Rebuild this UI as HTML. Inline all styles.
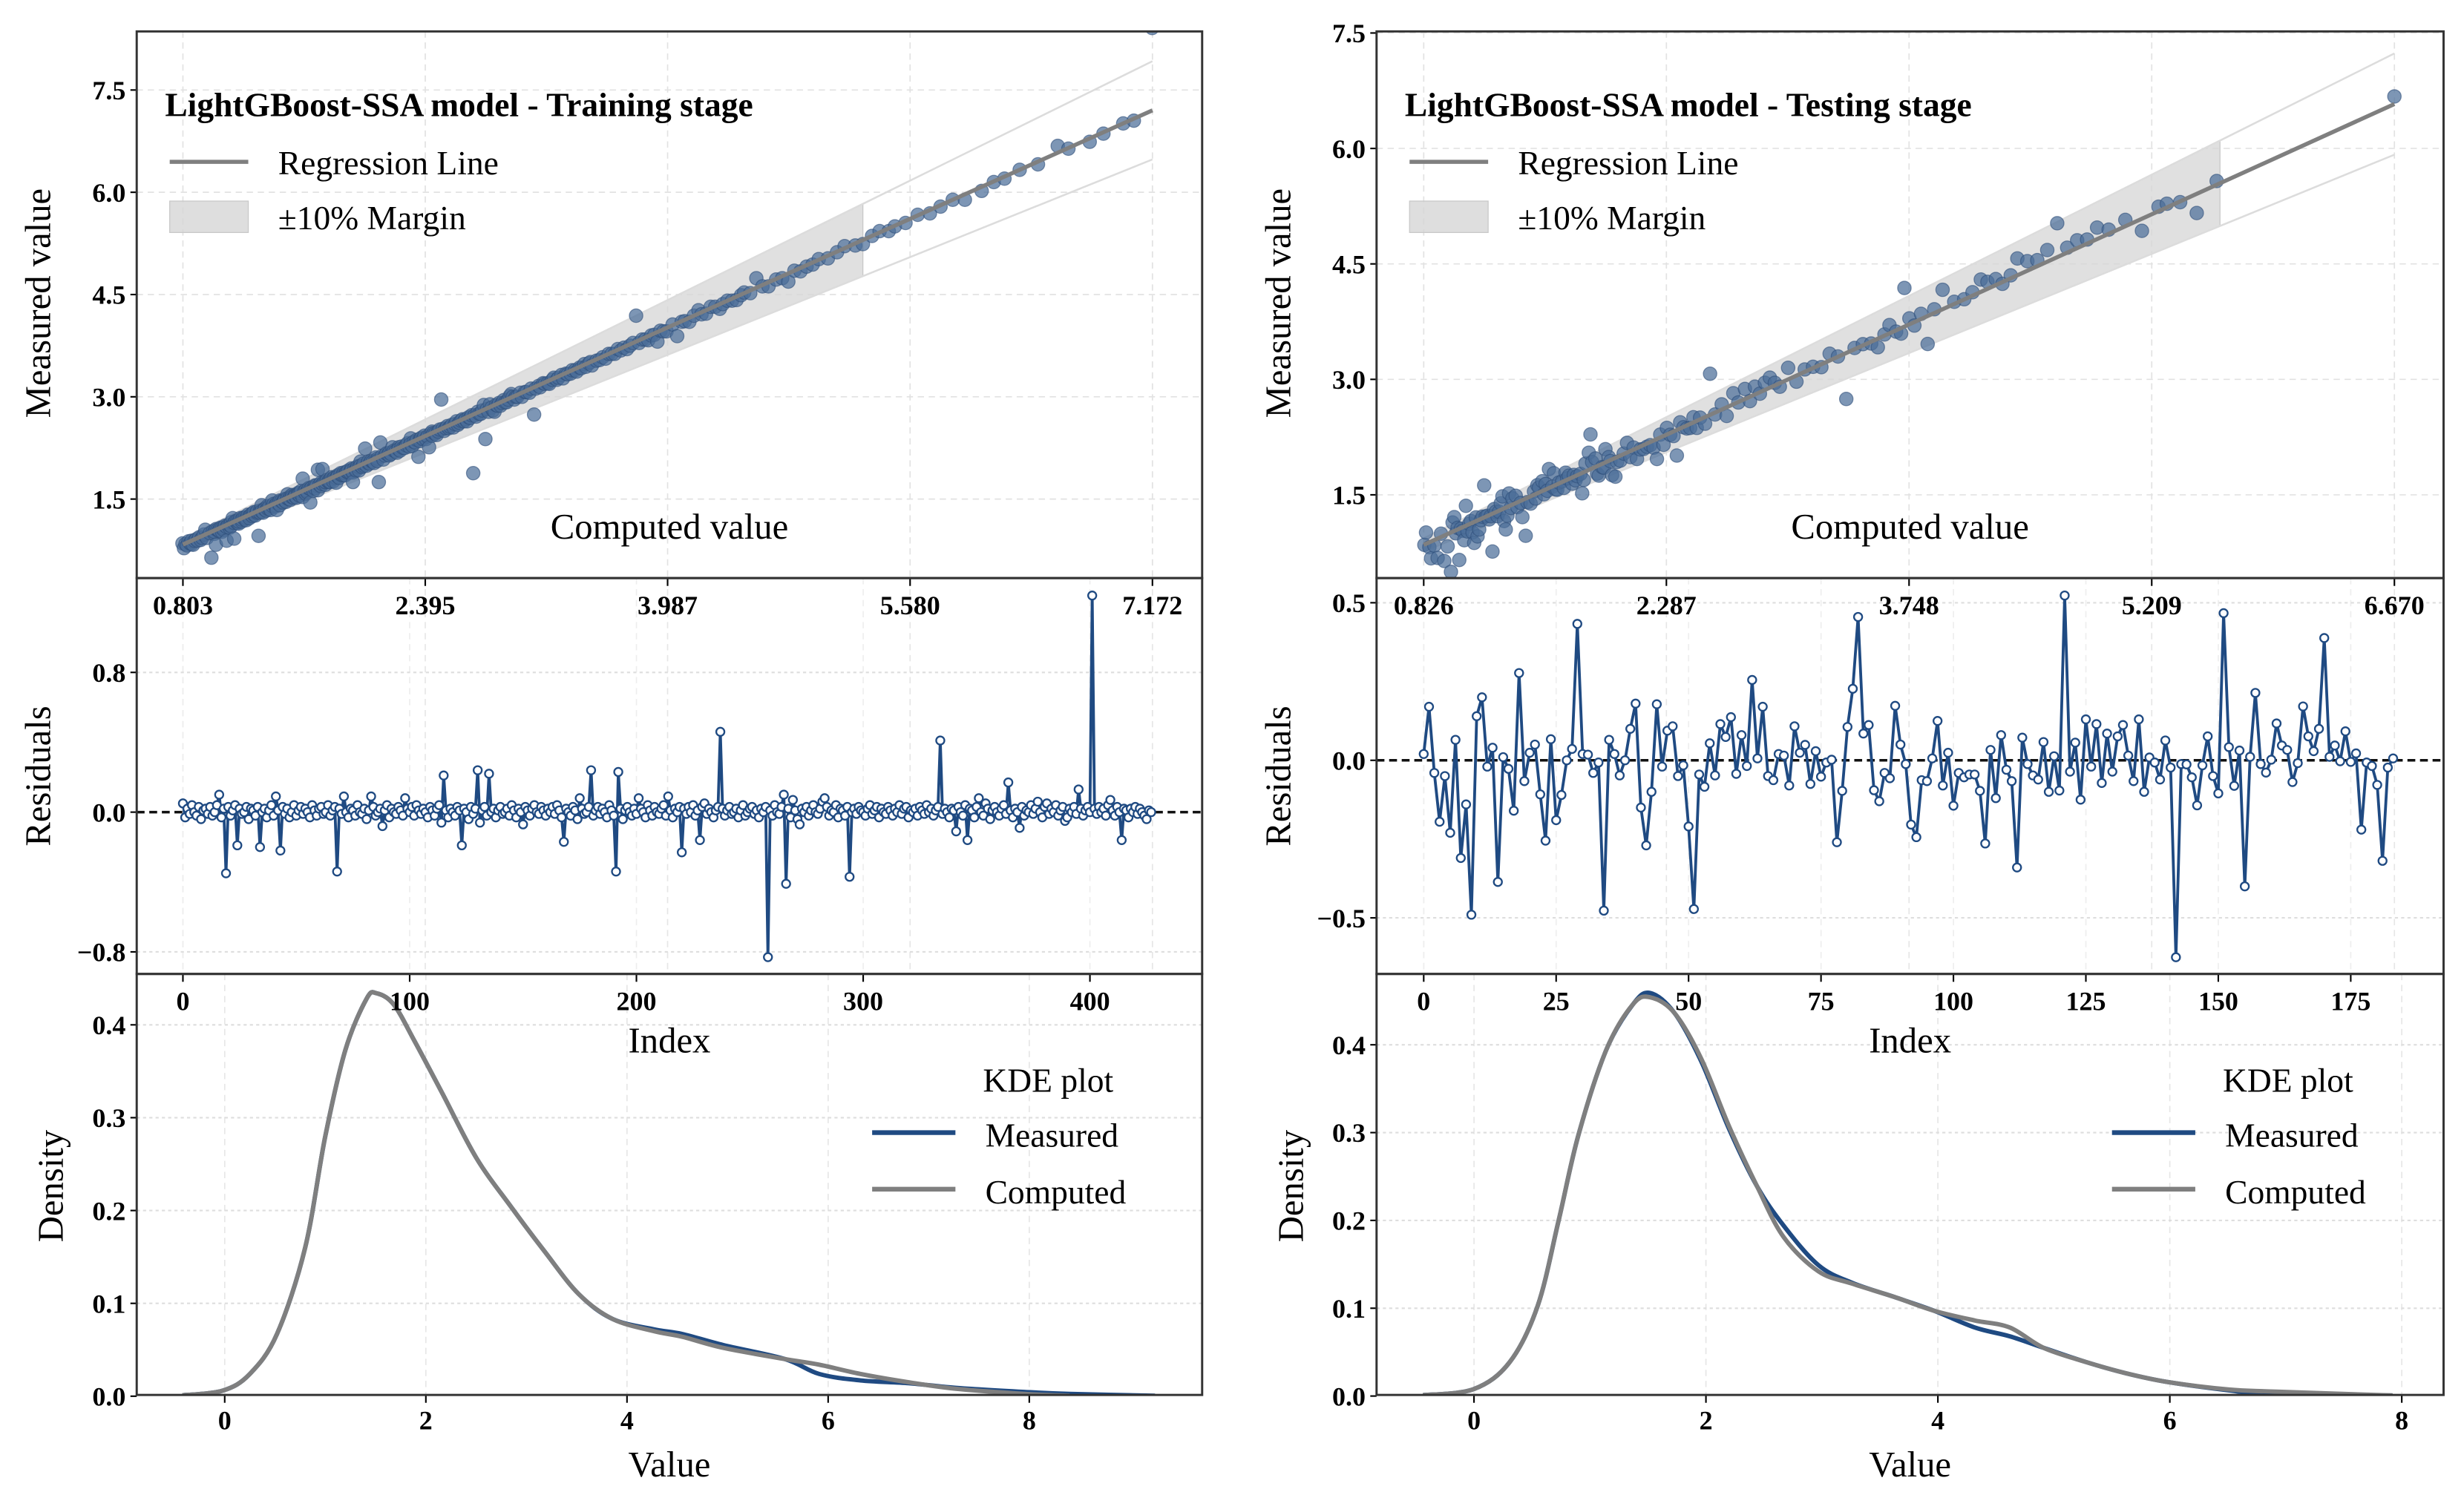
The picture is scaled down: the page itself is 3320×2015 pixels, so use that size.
<!DOCTYPE html>
<html><head><meta charset="utf-8"><title>LightGBoost-SSA</title>
<style>html,body{margin:0;padding:0;background:#fff}svg{display:block;font-family:"Liberation Serif",serif}</style>
</head><body>
<svg id="chart" xmlns="http://www.w3.org/2000/svg" width="3320" height="2015" viewBox="0 0 1568 951.7" preserveAspectRatio="none">
<rect x="0" y="0" width="1568" height="951.7" fill="#fff"/>
</svg>
<script>
// ---------- DATA ----------
const trainTopTicks=["0.803","2.395","3.987","5.580","7.172"];
const testTopTicks=["0.826","2.287","3.748","5.209","6.670"];
const scatterYTicks=[1.5,3.0,4.5,6.0,7.5];
const trainResidTicks=[0.8,0.0,-0.8];
const testResidTicks=[0.5,0.0,-0.5];
const trainIndexTicks=[0,100,200,300,400];
const testIndexTicks=[0,25,50,75,100,125,150,175];
const kdeXTicks=[0,2,4,6,8];
const kdeYTicks=[0.0,0.1,0.2,0.3,0.4];

const trainComputed=[0.80,0.81,0.82,0.83,0.84,0.85,0.86,0.86,0.87,0.88,0.89,0.90,0.91,0.92,0.93,0.94,0.95,0.96,0.98,0.99,
1.00,1.01,1.01,1.02,1.02,1.03,1.04,1.04,1.05,1.06,1.06,1.07,1.07,1.08,1.09,1.09,1.10,1.11,1.11,1.12,1.12,1.13,1.14,1.14,1.15,1.16,1.16,1.17,1.17,1.18,1.19,1.19,1.20,1.21,1.21,1.22,1.22,1.23,1.24,1.24,1.25,1.26,1.26,1.27,1.27,1.28,1.29,1.29,1.30,1.31,1.31,1.32,1.32,1.33,1.34,1.34,1.35,1.36,1.36,1.37,1.37,1.38,1.39,1.39,1.40,1.41,1.41,1.42,1.42,1.43,1.44,1.44,1.45,1.46,1.46,1.47,1.47,1.48,1.49,1.49,
1.50,1.51,1.51,1.52,1.52,1.53,1.54,1.54,1.55,1.56,1.56,1.57,1.57,1.58,1.59,1.59,1.60,1.61,1.61,1.62,1.62,1.63,1.64,1.64,1.65,1.66,1.66,1.67,1.67,1.68,1.69,1.69,1.70,1.71,1.71,1.72,1.72,1.73,1.74,1.74,1.75,1.76,1.76,1.77,1.77,1.78,1.79,1.79,1.80,1.81,1.81,1.82,1.82,1.83,1.84,1.84,1.85,1.86,1.86,1.87,1.87,1.88,1.89,1.89,1.90,1.91,1.91,1.92,1.92,1.93,1.94,1.94,1.95,1.96,1.96,1.97,1.97,1.98,1.99,1.99,
2.00,2.01,2.02,2.02,2.03,2.04,2.05,2.06,2.07,2.08,2.08,2.09,2.10,2.11,2.12,2.13,2.14,2.15,2.16,2.16,2.17,2.18,2.19,2.20,2.21,2.22,2.22,2.23,2.24,2.25,2.26,2.27,2.28,2.29,2.30,2.30,2.31,2.32,2.33,2.34,2.35,2.36,2.36,2.37,2.38,2.39,2.40,2.41,2.42,2.43,2.44,2.44,2.45,2.46,2.47,2.48,2.49,
2.50,2.51,2.52,2.53,2.54,2.55,2.56,2.57,2.58,2.59,2.60,2.61,2.62,2.63,2.64,2.65,2.66,2.67,2.68,2.69,2.70,2.71,2.72,2.73,2.74,2.75,2.76,2.77,2.78,2.79,2.80,2.81,2.82,2.83,2.84,2.85,2.86,2.87,2.88,2.89,2.90,2.91,2.92,2.93,2.94,2.95,2.96,2.97,2.98,2.99,
3.00,3.02,3.03,3.05,3.06,3.08,3.09,3.11,3.12,3.14,3.15,3.17,3.18,3.20,3.21,3.23,3.24,3.26,3.27,3.29,3.30,3.32,3.33,3.35,3.36,3.38,3.39,3.41,3.42,3.44,3.45,3.47,3.48,3.49,
3.52,3.54,3.56,3.58,3.60,3.62,3.64,3.66,3.68,3.70,3.72,3.74,3.76,3.78,3.80,3.82,3.84,3.86,3.88,3.90,3.92,3.94,3.96,3.98,
4.02,4.05,4.08,4.10,4.13,4.16,4.19,4.21,4.24,4.27,4.30,4.33,4.35,4.38,4.41,4.44,4.47,4.49,
4.53,4.57,4.61,4.65,4.70,4.74,4.78,4.82,4.86,4.90,4.94,4.98,
5.04,5.10,5.15,5.22,5.27,5.33,5.38,5.44,5.48,
5.55,5.63,5.71,5.78,5.86,5.94,
6.05,6.13,6.20,6.30,6.42,
6.55,6.62,6.76,6.85,6.98,7.05,7.17];

const trainResidual=[0.05,-0.03,0.02,-0.01,0.04,0.00,-0.02,0.03,-0.04,0.01,0.02,-0.01,0.03,-0.02,0.00,0.04,0.10,-0.03,0.02,-0.35,
0.03,-0.02,0.01,0.04,-0.19,0.02,-0.01,0.00,0.03,-0.04,0.02,0.01,-0.02,0.03,-0.20,0.00,0.02,-0.03,0.01,0.04,
-0.02,0.09,0.01,-0.22,0.03,-0.01,0.02,-0.03,0.00,0.04,-0.02,0.01,0.03,-0.01,0.02,0.00,-0.03,0.04,0.01,-0.02,
0.02,0.03,-0.01,0.00,0.04,-0.02,0.01,0.03,-0.34,0.02,-0.01,0.09,0.00,-0.03,0.02,0.01,-0.02,0.04,0.00,-0.01,
0.02,-0.04,0.01,0.09,0.03,-0.02,0.00,0.02,-0.08,0.01,0.04,-0.03,0.02,0.00,-0.01,0.03,0.01,-0.02,0.08,0.02,
0.00,0.03,-0.02,0.04,0.01,-0.01,0.02,0.00,-0.03,0.03,0.01,-0.02,0.02,0.04,-0.06,0.21,0.01,-0.03,0.02,0.00,
-0.02,0.03,0.01,-0.19,0.02,0.00,-0.04,0.03,-0.01,0.02,0.24,-0.06,0.01,0.03,-0.02,0.22,0.00,0.02,-0.03,0.01,
0.03,-0.01,0.00,0.02,-0.02,0.04,0.01,-0.03,0.02,0.00,-0.07,0.03,0.01,-0.02,0.02,0.04,0.00,-0.01,0.03,0.01,
-0.02,0.02,0.00,0.03,-0.01,0.04,0.01,-0.03,-0.17,0.02,0.00,-0.02,0.03,0.01,-0.04,0.08,0.02,-0.01,0.00,0.03,
0.24,-0.02,0.01,0.03,-0.01,0.02,0.00,-0.03,0.04,0.01,-0.02,-0.34,0.23,0.02,-0.04,0.01,0.03,0.00,-0.02,0.02,
-0.01,0.08,0.02,0.00,-0.03,0.04,0.01,-0.02,0.03,0.00,-0.01,0.02,0.04,-0.02,0.09,0.01,-0.03,0.02,0.00,0.03,
-0.23,0.02,-0.01,0.03,0.00,0.04,-0.02,0.01,-0.16,0.03,0.05,-0.01,0.02,0.00,-0.03,0.01,0.03,0.46,0.02,-0.02,
0.01,0.03,-0.01,0.00,0.02,-0.03,0.01,0.04,-0.02,0.00,0.02,0.03,-0.01,0.01,-0.03,0.02,0.00,0.03,-0.83,0.01,
-0.02,0.04,0.00,-0.01,0.03,0.10,-0.41,0.02,-0.03,0.07,0.01,-0.04,-0.07,0.02,0.00,0.03,-0.02,0.01,0.04,0.00,
-0.01,0.02,0.06,0.08,0.03,-0.02,0.01,0.00,0.04,-0.03,0.02,0.01,-0.02,0.03,-0.37,0.00,0.02,-0.01,0.03,0.01,
0.00,-0.02,0.02,0.04,-0.01,0.01,0.03,-0.03,0.02,0.00,-0.01,0.03,0.01,-0.02,0.02,0.00,0.04,-0.01,0.02,0.03,
-0.03,0.01,0.00,0.02,-0.02,0.03,0.01,-0.01,0.04,0.00,0.02,-0.02,0.01,0.03,0.41,-0.01,0.02,0.00,-0.03,0.02,
0.01,-0.11,0.03,0.00,-0.02,0.04,-0.16,0.02,0.01,-0.03,0.03,0.08,0.00,-0.02,0.05,0.02,-0.04,0.01,0.03,0.00,
-0.02,0.02,0.04,-0.01,0.17,0.01,-0.03,0.02,0.00,-0.09,0.03,-0.02,0.01,0.00,0.04,-0.01,0.02,0.06,0.00,-0.03,
0.03,0.05,-0.01,0.02,0.00,0.04,-0.02,0.01,0.03,-0.05,-0.03,0.02,0.00,0.03,-0.01,0.13,0.02,-0.02,0.01,0.03,
0.00,1.24,0.02,-0.01,0.03,0.00,0.02,-0.02,0.04,0.07,0.01,-0.02,0.03,0.00,-0.16,0.02,0.01,-0.03,0.02,0.00,
0.03,-0.01,0.02,0.00,-0.02,-0.04,0.01,0.00];

const testComputed=[0.83,0.84,0.86,0.87,0.89,0.91,0.93,0.95,0.97,0.99,
1.00,1.01,1.02,1.03,1.04,1.05,1.06,1.07,1.08,1.09,1.10,1.11,1.12,1.13,1.14,1.15,1.16,1.17,1.18,1.19,1.20,1.21,1.22,1.23,1.24,1.25,1.26,1.27,1.28,1.29,1.30,1.31,1.32,1.33,1.34,1.35,1.36,1.38,1.39,1.41,1.42,1.44,1.45,1.47,1.49,
1.50,1.51,1.52,1.54,1.55,1.56,1.57,1.58,1.60,1.61,1.62,1.63,1.64,1.66,1.67,1.68,1.69,1.70,1.72,1.73,1.74,1.75,1.77,1.78,1.79,1.80,1.82,1.83,1.84,1.86,1.87,1.88,1.90,1.91,1.92,1.94,1.95,1.96,1.98,1.99,
2.01,2.03,2.05,2.07,2.09,2.11,2.13,2.15,2.17,2.19,2.21,2.23,2.25,2.27,2.29,2.31,2.33,2.35,2.37,2.39,2.41,2.43,2.45,2.47,2.49,
2.52,2.55,2.58,2.62,2.65,2.69,2.72,2.76,2.79,2.82,2.85,2.88,2.91,2.94,2.97,
3.02,3.07,3.12,3.17,3.22,3.27,3.32,3.37,3.42,3.47,
3.52,3.56,3.60,3.63,3.67,3.70,3.72,3.75,3.78,3.82,3.86,3.90,3.95,
4.02,4.08,4.13,4.18,4.22,4.27,4.31,4.36,4.40,4.46,
4.52,4.58,4.64,4.70,4.76,4.82,4.88,4.95,
5.05,5.15,5.25,5.30,5.38,5.48,5.60,6.67];

const testResidual=[0.02,0.17,-0.04,-0.195,-0.05,-0.23,0.065,-0.31,-0.14,-0.49,0.14,0.2,-0.02,0.04,-0.386,0.01,-0.027,-0.16,0.277,-0.066,
0.024,0.05,-0.108,-0.255,0.067,-0.19,-0.11,0,0.036,0.433,0.02,0.018,-0.04,-0.007,-0.477,0.065,0.02,-0.048,0,0.1,
0.18,-0.15,-0.27,-0.1,0.178,-0.02,0.094,0.108,-0.05,-0.016,-0.21,-0.472,-0.045,-0.084,0.054,-0.048,0.115,0.074,0.137,-0.043,
0.08,-0.018,0.255,0.006,0.17,-0.05,-0.063,0.02,0.015,-0.08,0.108,0.024,0.049,-0.075,0.029,-0.052,-0.007,0.002,-0.26,-0.097,
0.106,0.227,0.455,0.085,0.112,-0.095,-0.13,-0.04,-0.057,0.173,0.05,-0.012,-0.204,-0.244,-0.063,-0.066,0.006,0.125,-0.08,0.024,
-0.144,-0.04,-0.054,-0.045,-0.045,-0.097,-0.264,0.033,-0.12,0.08,-0.03,-0.066,-0.34,0.072,-0.012,-0.048,-0.061,0.058,-0.1,0.013,
-0.096,0.523,-0.036,0.056,-0.125,0.13,-0.02,0.115,-0.072,0.085,-0.036,0.076,0.112,0.015,-0.066,0.13,-0.1,0.009,-0.007,-0.061,
0.063,-0.023,-0.625,-0.012,-0.013,-0.054,-0.143,-0.016,0.076,-0.05,-0.105,0.467,0.042,-0.081,0.031,-0.4,0.011,0.214,-0.012,-0.039,
0.002,0.117,0.047,0.033,-0.069,-0.009,0.171,0.076,0.029,0.1,0.388,0.011,0.047,-0.003,0.092,-0.005,0.022,-0.22,-0.007,-0.018,
-0.078,-0.319,-0.023,0.006];

const kdeTrainX=[-0.42,-0.02,0.25,0.52,0.8,1.0,1.2,1.41,1.51,1.68,1.89,2.16,2.5,2.84,3.18,3.52,3.86,4.27,4.55,4.96,5.57,5.91,6.32,6.8,7.27,7.95,8.4,9.25];
const kdeTrainMeasured=[0.001,0.006,0.024,0.067,0.16,0.28,0.373,0.428,0.434,0.422,0.382,0.327,0.257,0.205,0.156,0.11,0.083,0.072,0.067,0.055,0.04,0.024,0.017,0.014,0.009,0.0046,0.0025,0.0005];
const kdeTrainComputed=[0.001,0.006,0.024,0.067,0.16,0.28,0.373,0.428,0.434,0.422,0.382,0.327,0.257,0.205,0.156,0.11,0.083,0.07,0.064,0.052,0.04,0.034,0.024,0.015,0.008,0.0025,0.0005,null];
const kdeTestX=[-0.44,0,0.31,0.55,0.73,0.9,1.14,1.37,1.52,1.73,1.96,2.2,2.44,2.67,2.97,3.26,3.62,3.97,4.32,4.62,4.91,5.27,5.62,5.98,6.51,6.92,7.92];
const kdeTestMeasured=[0.001,0.008,0.039,0.103,0.2,0.297,0.394,0.446,0.459,0.436,0.381,0.304,0.239,0.194,0.149,0.129,0.113,0.097,0.078,0.068,0.055,0.039,0.026,0.016,0.0065,0.0016,0.0006];
const kdeTestComputed=[0.001,0.008,0.039,0.103,0.2,0.297,0.394,0.446,0.454,0.436,0.384,0.307,0.239,0.181,0.142,0.128,0.113,0.097,0.086,0.078,0.055,0.039,0.026,0.016,0.0074,0.005,0.0006];

// ---------- DRAW ----------
const NS='http://www.w3.org/2000/svg';
const svg=document.getElementById('chart');
const NAVY='#1f4a82', GRAY='#7f7f7f';
function mk(tag,attrs,parent){const e=document.createElementNS(NS,tag);for(const k in attrs)e.setAttribute(k,attrs[k]);(parent||svg).appendChild(e);return e;}
function label(parent,x,y,s,size,anchor,bold,name,rot){
  const t=mk('text',{x:x,y:y,'font-size':size,'text-anchor':anchor,'font-weight':bold?'bold':'normal',fill:'#000'},parent);
  if(rot)t.setAttribute('transform','rotate(-90 '+x+' '+y+')');
  t.textContent=s;
  
  
  return t;
}
function smoothPath(pts){
  let d='M'+pts[0][0].toFixed(2)+','+pts[0][1].toFixed(2);
  for(let i=0;i<pts.length-1;i++){
    const p0=pts[Math.max(0,i-1)],p1=pts[i],p2=pts[i+1],p3=pts[Math.min(pts.length-1,i+2)];
    const c1=[p1[0]+(p2[0]-p0[0])/6,p1[1]+(p2[1]-p0[1])/6];
    const c2=[p2[0]-(p3[0]-p1[0])/6,p2[1]-(p3[1]-p1[1])/6];
    d+=' C'+c1[0].toFixed(2)+','+c1[1].toFixed(2)+' '+c2[0].toFixed(2)+','+c2[1].toFixed(2)+' '+p2[0].toFixed(2)+','+p2[1].toFixed(2);
  }
  return d;
}
let clipId=0;
function clip(x0,y0,x1,y1){const id='cp'+(clipId++);const c=mk('clipPath',{id:id});mk('rect',{x:x0,y:y0,width:x1-x0,height:y1-y0},c);return 'url(#'+id+')';}
function hline(g,x0,x1,y,name,dash,col,w){const l=mk('line',{x1:x0,x2:x1,y1:y,y2:y,stroke:col,'stroke-width':w,'stroke-dasharray':dash},g);return l;}
function vline(g,x,y0,y1,name,dash,col,w){const l=mk('line',{x1:x,x2:x,y1:y0,y2:y1,stroke:col,'stroke-width':w,'stroke-dasharray':dash},g);return l;}

function drawPanel(P){
  const g=mk('g',{});
  
  
  const X0=P.x0,X1=P.x1,T=20,M1=368,M2=620,B=888;
  // ===== scatter =====
  const sg=mk('g',{'clip-path':clip(X0,T,X1,M1)},g);
  
  
  P.topTicks.forEach(s=>vline(sg,P.sx(parseFloat(s)),T,M1,'scatter-x-gridline','4,3','#e2e2e2',0.8));
  scatterYTicks.forEach(v=>hline(sg,X0,X1,P.sy(v),'scatter-y-gridline','4,3','#e2e2e2',0.8));
  const cmin=P.cmin,cmax=P.cmax,slope=P.slope,icpt=P.icpt;
  const reg=v=>slope*v+icpt;
  // margin band
  const bpts=[[P.sx(cmin),P.sy(reg(cmin)*1.1)],[P.sx(P.bandEnd),P.sy(reg(P.bandEnd)*1.1)],[P.sx(P.bandEnd),P.sy(reg(P.bandEnd)*0.9)],[P.sx(cmin),P.sy(reg(cmin)*0.9)]];
  const band=mk('polygon',{points:bpts.map(p=>p.join(',')).join(' '),fill:'#d6d6d6','fill-opacity':0.75,stroke:'#c8c8c8','stroke-width':0.6},sg);
  
  
  const up=mk('line',{x1:P.sx(cmin),y1:P.sy(reg(cmin)*1.1),x2:P.sx(cmax),y2:P.sy(reg(cmax)*1.1),stroke:'#dcdcdc','stroke-width':1.2},sg);
  
  
  const lo=mk('line',{x1:P.sx(cmin),y1:P.sy(reg(cmin)*0.9),x2:P.sx(cmax),y2:P.sy(reg(cmax)*0.9),stroke:'#dcdcdc','stroke-width':1.2},sg);
  
  
  P.computed.forEach((c,i)=>{
    const m=c+(P.resid[i]||0);
    const pt=mk('circle',{cx:P.sx(c),cy:P.sy(m),r:4.3,fill:'#4b6d99','fill-opacity':0.72,stroke:'#2e4f7a','stroke-opacity':0.6,'stroke-width':0.6},sg);
    
    
  });
  const rl=mk('line',{x1:P.sx(cmin),y1:P.sy(reg(cmin)),x2:P.sx(cmax),y2:P.sy(reg(cmax)),stroke:GRAY,'stroke-width':2.6},sg);
  
  
  // scatter y ticks
  scatterYTicks.forEach(v=>{
    const y=P.sy(v); if(y<T-1)return;
    const tk=mk('line',{x1:X0-4,x2:X0,y1:y,y2:y,stroke:'#000','stroke-width':1},g);
    
    
    label(g,X0-7,y+6,v.toFixed(1),17,'end',true,'scatter-y-tick-label');
  });
  label(g,X0+18,74,P.title,21.5,'start',true,'chart-title');
  const lg=mk('line',{x1:X0+21,x2:X0+71,y1:103,y2:103,stroke:GRAY,'stroke-width':2.6},g);
  
  
  label(g,X0+90,111,'Regression Line',21.5,'start',false,'legend-regression-label');
  const lb=mk('rect',{x:X0+21,y:128,width:50,height:20,fill:'#d6d6d6','fill-opacity':0.8,stroke:'#c8c8c8','stroke-width':0.6},g);
  
  
  label(g,X0+90,146,'±10% Margin',21.5,'start',false,'legend-margin-label');
  label(g,(X0+X1)/2+P.cvOff,343,'Computed value',23,'middle',false,'x-axis-title-computed');
  label(g,X0-55,193,'Measured value',23,'middle',false,'y-axis-title-measured',true);

  // ===== residuals =====
  const rg=mk('g',{'clip-path':clip(X0,M1,X1,M2)},g);
  
  
  P.topTicks.forEach(s=>vline(rg,P.sx(parseFloat(s)),M1,M2,'residual-gridline-top','4,3','#e6e6e6',0.8));
  P.indexTicks.forEach(i=>vline(rg,P.ix(i),M1,M2,'residual-gridline-index','4,3','#eeeeee',0.8));
  P.residTicks.forEach(v=>{if(v!==0)hline(rg,X0,X1,P.ry(v),'residual-y-gridline','2,2','#dedede',1);});
  hline(rg,X0,X1,P.ry(0),'zero-reference-line','5,3','#111',1.6);
  const rpts=P.resid.map((r,i)=>[P.ix(i),P.ry(r)]);
  const rline=mk('polyline',{points:rpts.map(p=>p[0].toFixed(2)+','+p[1].toFixed(2)).join(' '),fill:'none',stroke:NAVY,'stroke-width':1.8,'stroke-linejoin':'round'},rg);
  
  
  rpts.forEach(p=>{
    const c=mk('circle',{cx:p[0],cy:p[1],r:2.6,fill:'#fff',stroke:NAVY,'stroke-width':1.1},rg);
    
    
  });
  P.topTicks.forEach(s=>{
    const x=P.sx(parseFloat(s));
    const tk=mk('line',{x1:x,x2:x,y1:M1,y2:M1+5,stroke:'#000','stroke-width':1},g);
    
    
    label(g,x,391,s,17,'middle',true,'computed-top-tick-label');
  });
  P.residTicks.forEach(v=>{
    const y=P.ry(v);
    const tk=mk('line',{x1:X0-4,x2:X0,y1:y,y2:y,stroke:'#000','stroke-width':1},g);
    
    
    label(g,X0-7,y+6,v===0?'0.0':(v<0?'\u2212'+Math.abs(v).toFixed(1):v.toFixed(1)),17,'end',true,'residual-y-tick-label');
  });
  label(g,X0-55,494,'Residuals',23,'middle',false,'y-axis-title-residuals',true);

  // ===== KDE =====
  const kg=mk('g',{'clip-path':clip(X0,M2,X1,B)},g);
  
  
  kdeXTicks.forEach(v=>vline(kg,P.kx(v),M2,B,'kde-x-gridline','4,3','#e6e6e6',0.8));
  kdeYTicks.forEach(v=>{if(v>0)hline(kg,X0,X1,P.ky(v),'kde-y-gridline','2,2','#dedede',1);});
  P.indexTicks.forEach(i=>{
    const x=P.ix(i);
    const tk=mk('line',{x1:x,x2:x,y1:M2,y2:M2+5,stroke:'#000','stroke-width':1},g);
    
    
    label(g,x,643,String(i),17,'middle',true,'index-tick-label');
  });
  label(g,(X0+X1)/2+P.idxOff,670,'Index',23,'middle',false,'x-axis-title-index');
  const mp=[],cp=[];
  P.kdeX.forEach((x,i)=>{mp.push([P.kx(x),P.ky(P.kdeM[i])]);if(P.kdeC[i]!==null)cp.push([P.kx(x),P.ky(P.kdeC[i])]);});
  const mpath=mk('path',{d:smoothPath(mp),fill:'none',stroke:NAVY,'stroke-width':2.8},kg);
  
  
  const cpath=mk('path',{d:smoothPath(cp),fill:'none',stroke:GRAY,'stroke-width':2.8},kg);
  
  
  kdeXTicks.forEach(v=>{
    const x=P.kx(v);
    const tk=mk('line',{x1:x,x2:x,y1:B,y2:B+5,stroke:'#000','stroke-width':1},g);
    
    
    label(g,x,910,String(v),17,'middle',true,'kde-x-tick-label');
  });
  kdeYTicks.forEach(v=>{
    const y=P.ky(v);
    const tk=mk('line',{x1:X0-4,x2:X0,y1:y,y2:y,stroke:'#000','stroke-width':1},g);
    
    
    label(g,X0-7,y+6,v.toFixed(1),17,'end',true,'kde-y-tick-label');
  });
  label(g,(X0+X1)/2,940,'Value',23,'middle',false,'x-axis-title-value');
  label(g,X0-47,755,'Density',23,'middle',false,'y-axis-title-density',true);
  label(g,X0+580,695,'KDE plot',21.5,'middle',false,'kde-legend-title');
  const l1=mk('line',{x1:X0+468,x2:X0+521,y1:721,y2:721,stroke:NAVY,'stroke-width':3},g);
  
  
  label(g,X0+540,730,'Measured',21.5,'start',false,'kde-legend-measured-label');
  const l2=mk('line',{x1:X0+468,x2:X0+521,y1:757,y2:757,stroke:GRAY,'stroke-width':3},g);
  
  
  label(g,X0+540,766,'Computed',21.5,'start',false,'kde-legend-computed-label');

  // frames
  [[T,M1],[M1,M2],[M2,B]].forEach(r=>{
    const f=mk('rect',{x:X0,y:r[0],width:X1-X0,height:r[1]-r[0],fill:'none',stroke:'#333','stroke-width':1.4},g);
    
    
  });
}

drawPanel({name:'training-panel',x0:87,x1:765,title:'LightGBoost-SSA model - Training stage',
  sx:v=>116.4+(v-0.803)*96.87, sy:v=>317.7-(v-1.5)*43.4, cmin:0.803,cmax:7.172,slope:1.0,icpt:0.03,bandEnd:5.27,
  computed:trainComputed,resid:trainResidual,topTicks:trainTopTicks,
  ix:i=>116.4+i*1.443, ry:r=>517-r*111.2, residTicks:trainResidTicks, indexTicks:trainIndexTicks,
  kx:v=>143+v*64, ky:d=>888.8-d*591, kdeX:kdeTrainX,kdeM:kdeTrainMeasured,kdeC:kdeTrainComputed,cvOff:0,idxOff:0});
drawPanel({name:'testing-panel',x0:876,x1:1555,title:'LightGBoost-SSA model - Testing stage',
  sx:v=>906+(v-0.826)*105.7, sy:v=>315-(v-1.5)*49.0, cmin:0.826,cmax:6.67,slope:0.98,icpt:0.04,bandEnd:5.62,
  computed:testComputed,resid:testResidual,topTicks:testTopTicks,
  ix:i=>906+i*3.371, ry:r=>484-r*200.6, residTicks:testResidTicks, indexTicks:testIndexTicks,
  kx:v=>938+v*73.8, ky:d=>888.7-d*559, kdeX:kdeTestX,kdeM:kdeTestMeasured,kdeC:kdeTestComputed,cvOff:0,idxOff:0});
</script>
</body></html>
